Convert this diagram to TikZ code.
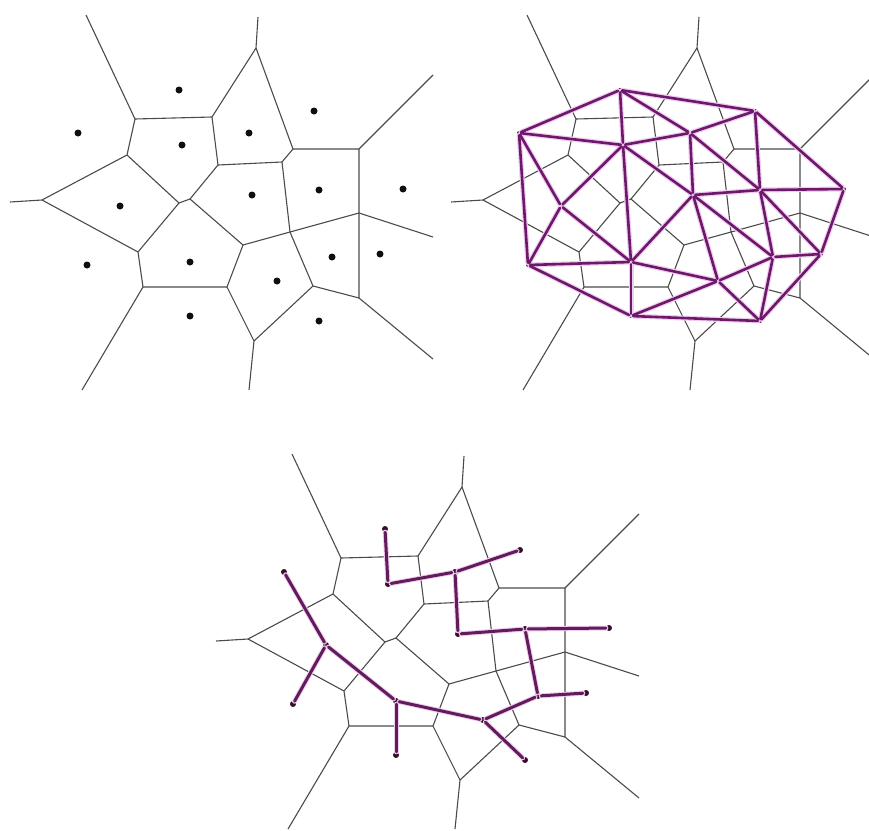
\documentclass[tikz,border=0pt]{standalone}
\usepackage{xcolor}
\usepackage{tikz}
\usetikzlibrary{positioning}
\definecolor{cellgray}{RGB}{75,75,75}
\definecolor{delpurple}{RGB}{110,24,108}
\definecolor{treepurple}{RGB}{98,28,92}
\definecolor{halopink}{RGB}{238,205,238}
\definecolor{sitedark}{RGB}{15,15,15}
\definecolor{treedot}{RGB}{55,12,45}
\tikzset{
  cell/.style={draw=cellgray, line width=1.1pt, line join=round},
  site/.style={circle, fill=sitedark, inner sep=0pt, minimum size=7pt},
  dsite/.style={circle, fill=delpurple!80!black, inner sep=0pt, minimum size=4pt},
  tsite/.style={circle, fill=treedot, inner sep=0pt, minimum size=6pt},
  halo/.style={draw=halopink, line width=5pt, line cap=round},
  deledge/.style={draw=delpurple, line width=2.6pt, line cap=round},
  treeedge/.style={draw=treepurple, line width=3pt, line cap=round}
}
% site positions (shared by the three panels)
\newcommand{\sitelist}{1/179/90, 2/78/133, 3/182/145, 4/249/133, 5/314/111,
  6/120/206, 7/252/195, 8/319/190, 9/403/189, 10/87/265, 11/190/262,
  12/332/257, 13/380/254, 14/277/281, 15/190/316, 16/319/321}
\newcommand{\delaunaylist}{1/2,1/3,1/4,1/5,2/3,2/6,2/10,3/4,3/6,3/7,3/11,
  4/5,4/7,4/8,5/8,5/9,6/10,6/11,7/8,7/11,7/12,7/14,8/9,8/12,8/13,9/13,
  10/11,10/15,11/14,11/15,12/13,12/14,12/16,13/16,14/15,14/16,15/16}
\newcommand{\treelist}{1/3,3/4,4/5,4/7,7/8,8/9,8/12,12/13,12/14,14/16,
  14/11,11/15,11/6,6/2,6/10}
% Voronoi cells of the sites
\newcommand{\voronoicells}{
  \coordinate (vA) at (135,119);
  \coordinate (vB) at (212,117);
  \coordinate (vC) at (256,48);
  \coordinate (vD) at (293,149);
  \coordinate (vE) at (282,162);
  \coordinate (vF) at (218,165);
  \coordinate (vG) at (127,155);
  \coordinate (vH) at (42,200);
  \coordinate (vIa) at (179,203);
  \coordinate (vIb) at (190,199);
  \coordinate (vJ) at (138,252);
  \coordinate (vK) at (143,287);
  \coordinate (vL) at (227,287);
  \coordinate (vM) at (243,245);
  \coordinate (vN) at (290,232);
  \coordinate (vO) at (359,213);
  \coordinate (vP) at (359,149);
  \coordinate (vQ) at (359,298);
  \coordinate (vR) at (313,286);
  \coordinate (vS) at (254,341);
  % open ends
  \coordinate (rA) at (86,15);
  \coordinate (rC) at (258,17);
  \coordinate (rP) at (433,75);
  \coordinate (rO) at (433,237);
  \coordinate (rQ) at (433,359);
  \coordinate (rS) at (249,390);
  \coordinate (rK) at (82,390);
  \coordinate (rH) at (10,202);
  \draw[cell] (rA) -- (vA) -- (vB) -- (vC) -- (rC);
  \draw[cell] (vB) -- (vF) -- (vE) -- (vD) -- (vC);
  \draw[cell] (vD) -- (vP) -- (rP);
  \draw[cell] (vP) -- (vO) -- (rO);
  \draw[cell] (vO) -- (vQ) -- (rQ);
  \draw[cell] (vE) -- (vN) -- (vO);
  \draw[cell] (vN) -- (vM) -- (vIb) -- (vF);
  \draw[cell] (vN) -- (vR) -- (vQ);
  \draw[cell] (vR) -- (vS) -- (rS);
  \draw[cell] (vS) -- (vL) -- (vM);
  \draw[cell] (vL) -- (vK) -- (rK);
  \draw[cell] (vK) -- (vJ) -- (vH) -- (rH);
  \draw[cell] (vH) -- (vG) -- (vA);
  \draw[cell] (vG) -- (vIa) -- (vIb);
  \draw[cell] (vIa) -- (vJ);
}

\begin{document}
\begin{tikzpicture}[x=1pt, y=-1pt]
  \useasboundingbox (0,0) rectangle (869,830);

  % Voronoi diagram with sites
  \begin{scope}
    \voronoicells
    \foreach \n/\x/\y in \sitelist
      \node[site] (a\n) at (\x,\y) {};
  \end{scope}

  % Delaunay triangulation on top
  \begin{scope}[shift={(441,0)}]
    \voronoicells
    \foreach \n/\x/\y in \sitelist
      \node[dsite] (b\n) at (\x,\y) {};
    \foreach \p/\q in \delaunaylist
      \draw[halo] (b\p) -- (b\q);
    \foreach \p/\q in \delaunaylist
      \draw[deledge] (b\p) -- (b\q);
  \end{scope}

  % Spanning tree
  \begin{scope}[shift={(206,439)}]
    \voronoicells
    \foreach \n/\x/\y in \sitelist
      \node[tsite] (c\n) at (\x,\y) {};
    \foreach \p/\q in \treelist
      \draw[halo] (c\p) -- (c\q);
    \foreach \p/\q in \treelist
      \draw[treeedge] (c\p) -- (c\q);
  \end{scope}
\end{tikzpicture}
\end{document}
